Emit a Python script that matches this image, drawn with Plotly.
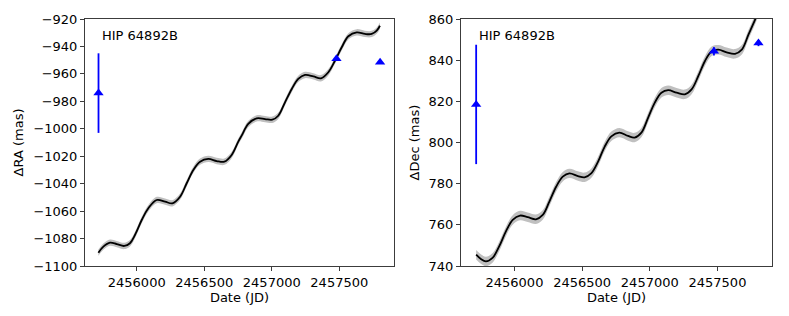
import plotly.graph_objects as go

# ---------------- data ----------------
# model track, RA offset
jd_ra = [2455716, 2455753, 2455802, 2455852, 2455908, 2455950, 2455987, 2456037,
         2456086, 2456148, 2456210, 2456264, 2456321, 2456370, 2456419, 2456469,
         2456530, 2456592, 2456649, 2456703, 2456752, 2456777, 2456826, 2456888,
         2456950, 2457004, 2457048, 2457098, 2457148, 2457196, 2457246, 2457308,
         2457364, 2457419, 2457468, 2457518, 2457567, 2457629, 2457690, 2457740,
         2457777, 2457801]
ra_model = [-1090.3, -1085.9, -1083.0, -1084.0, -1085.4, -1083.4, -1077.4, -1066.5,
            -1057.9, -1051.9, -1053.1, -1054.3, -1049.5, -1039.7, -1030.0, -1024.0,
            -1022.0, -1023.5, -1024.0, -1019.1, -1009.4, -1005.0, -996.5, -992.4,
            -992.9, -993.4, -990.5, -980.7, -971.0, -963.7, -960.8, -961.8,
            -963.2, -958.8, -950.4, -940.6, -932.6, -929.7, -930.9, -930.9,
            -928.5, -924.9]

# model track, Dec offset
jd_dec = [2455717, 2455752, 2455789, 2455838, 2455887, 2455937, 2455987, 2456041,
          2456098, 2456159, 2456209, 2456258, 2456308, 2456357, 2456406, 2456469,
          2456518, 2456567, 2456617, 2456666, 2456716, 2456775, 2456839, 2456888,
          2456938, 2456988, 2457037, 2457086, 2457136, 2457198, 2457259, 2457309,
          2457358, 2457407, 2457457, 2457507, 2457568, 2457630, 2457680, 2457729,
          2457778, 2457801]
dec_model = [745.5, 743.4, 742.2, 743.9, 749.5, 756.8, 762.4, 764.5,
             763.7, 762.7, 764.8, 771.3, 778.5, 783.4, 785.0, 783.7,
             783.1, 785.0, 790.6, 797.9, 803.0, 804.8, 803.2, 802.4,
             804.8, 812.1, 819.4, 824.2, 825.4, 824.2, 823.4, 825.8,
             832.2, 839.5, 844.3, 845.1, 843.8, 843.1, 845.1, 852.4,
             859.7, 863.5]

ra_band = 2.3    # half-width of grey uncertainty band (mas)
dec_band = 2.3

obs_jd = [2455717, 2457479, 2457802]
obs_ra = [-974.0, -949.0, -951.6]
obs_ra_err = [29.0, 1.5, 1.0]
obs_dec_jd = [2455717, 2457474, 2457803]
obs_dec = [818.5, 844.3, 848.3]
obs_dec_err = [29.0, 2.0, 1.5]

ra_ticks = [-1100, -1080, -1060, -1040, -1020, -1000, -980, -960, -940, -920]
ra_ticktext = ["\u22121100", "\u22121080", "\u22121060", "\u22121040", "\u22121020",
               "\u22121000", "\u2212980", "\u2212960", "\u2212940", "\u2212920"]
dec_ticks = [740, 760, 780, 800, 820, 840, 860]
jd_ticks = [2456000, 2456500, 2457000, 2457500]
jd_ticktext = ["2456000", "2456500", "2457000", "2457500"]
label = "HIP 64892B"

# ---------------- figure ----------------
fig = go.Figure()

BAND = "rgb(192,192,192)"
BLUE = "#0000ff"


def add_panel(jd, model, band, ojd, oval, oerr, xa, ya):
    fig.add_trace(go.Scatter(x=jd, y=[v + band for v in model], mode="lines",
                             line=dict(width=0, shape="spline", color=BAND),
                             xaxis=xa, yaxis=ya, hoverinfo="skip"))
    fig.add_trace(go.Scatter(x=jd, y=[v - band for v in model], mode="lines",
                             line=dict(width=0, shape="spline", color=BAND),
                             fill="tonexty", fillcolor=BAND,
                             xaxis=xa, yaxis=ya, hoverinfo="skip"))
    fig.add_trace(go.Scatter(x=jd, y=model, mode="lines",
                             line=dict(width=1.8, shape="spline", color="black"),
                             xaxis=xa, yaxis=ya))
    fig.add_trace(go.Scatter(x=ojd, y=oval, mode="markers",
                             marker=dict(symbol="triangle-up", size=9, color=BLUE),
                             error_y=dict(type="data", array=oerr, visible=True,
                                          color=BLUE, thickness=1.8, width=0),
                             xaxis=xa, yaxis=ya))


add_panel(jd_ra, ra_model, ra_band, obs_jd, obs_ra, obs_ra_err, "x", "y")
add_panel(jd_dec, dec_model, dec_band, obs_dec_jd, obs_dec, obs_dec_err, "x2", "y2")

W, H = 789, 316
axis_common = dict(showgrid=False, zeroline=False, showline=True, mirror=True,
                   linecolor="rgb(60,60,60)", linewidth=1, ticks="outside",
                   ticklen=4, tickcolor="rgb(60,60,60)", tickwidth=1,
                   automargin=False,
                   tickfont=dict(family="DejaVu Sans", size=13, color="black"))

fig.update_layout(
    width=W, height=H,
    margin=dict(l=0, r=0, t=19, b=50, autoexpand=False),
    paper_bgcolor="white", plot_bgcolor="white",
    showlegend=False, hovermode=False,
    font=dict(family="DejaVu Sans", size=13, color="black"),
    xaxis=dict(domain=[85 / W, 394 / W], range=[2455617, 2457905],
               tickvals=jd_ticks, ticktext=jd_ticktext,
               title=dict(text="Date (JD)", standoff=3, font=dict(size=13)),
               anchor="y", **axis_common),
    yaxis=dict(domain=[0, 1], range=[-1100, -920],
               tickvals=ra_ticks, ticktext=ra_ticktext,
               title=dict(text="\u0394RA (mas)", standoff=6, font=dict(size=13)),
               anchor="x", **axis_common),
    xaxis2=dict(domain=[461 / W, 772 / W], range=[2455605, 2457903],
                tickvals=jd_ticks, ticktext=jd_ticktext,
                title=dict(text="Date (JD)", standoff=3, font=dict(size=13)),
                anchor="y2", **axis_common),
    yaxis2=dict(domain=[0, 1], range=[740, 860],
                tickvals=dec_ticks,
                title=dict(text="\u0394Dec (mas)", standoff=6, font=dict(size=13)),
                anchor="x2", **axis_common),
)

for xr, yr in (("x domain", "y domain"), ("x2 domain", "y2 domain")):
    fig.add_annotation(text=label, xref=xr, yref=yr, x=0.05, y=0.935,
                       xanchor="left", yanchor="middle", showarrow=False,
                       font=dict(size=13, color="black"))

fig.write_html("out.html",
               config={"displayModeBar": False, "staticPlot": True},
               post_script="document.body.style.margin='0px';"
                           "document.body.style.overflow='hidden';")
